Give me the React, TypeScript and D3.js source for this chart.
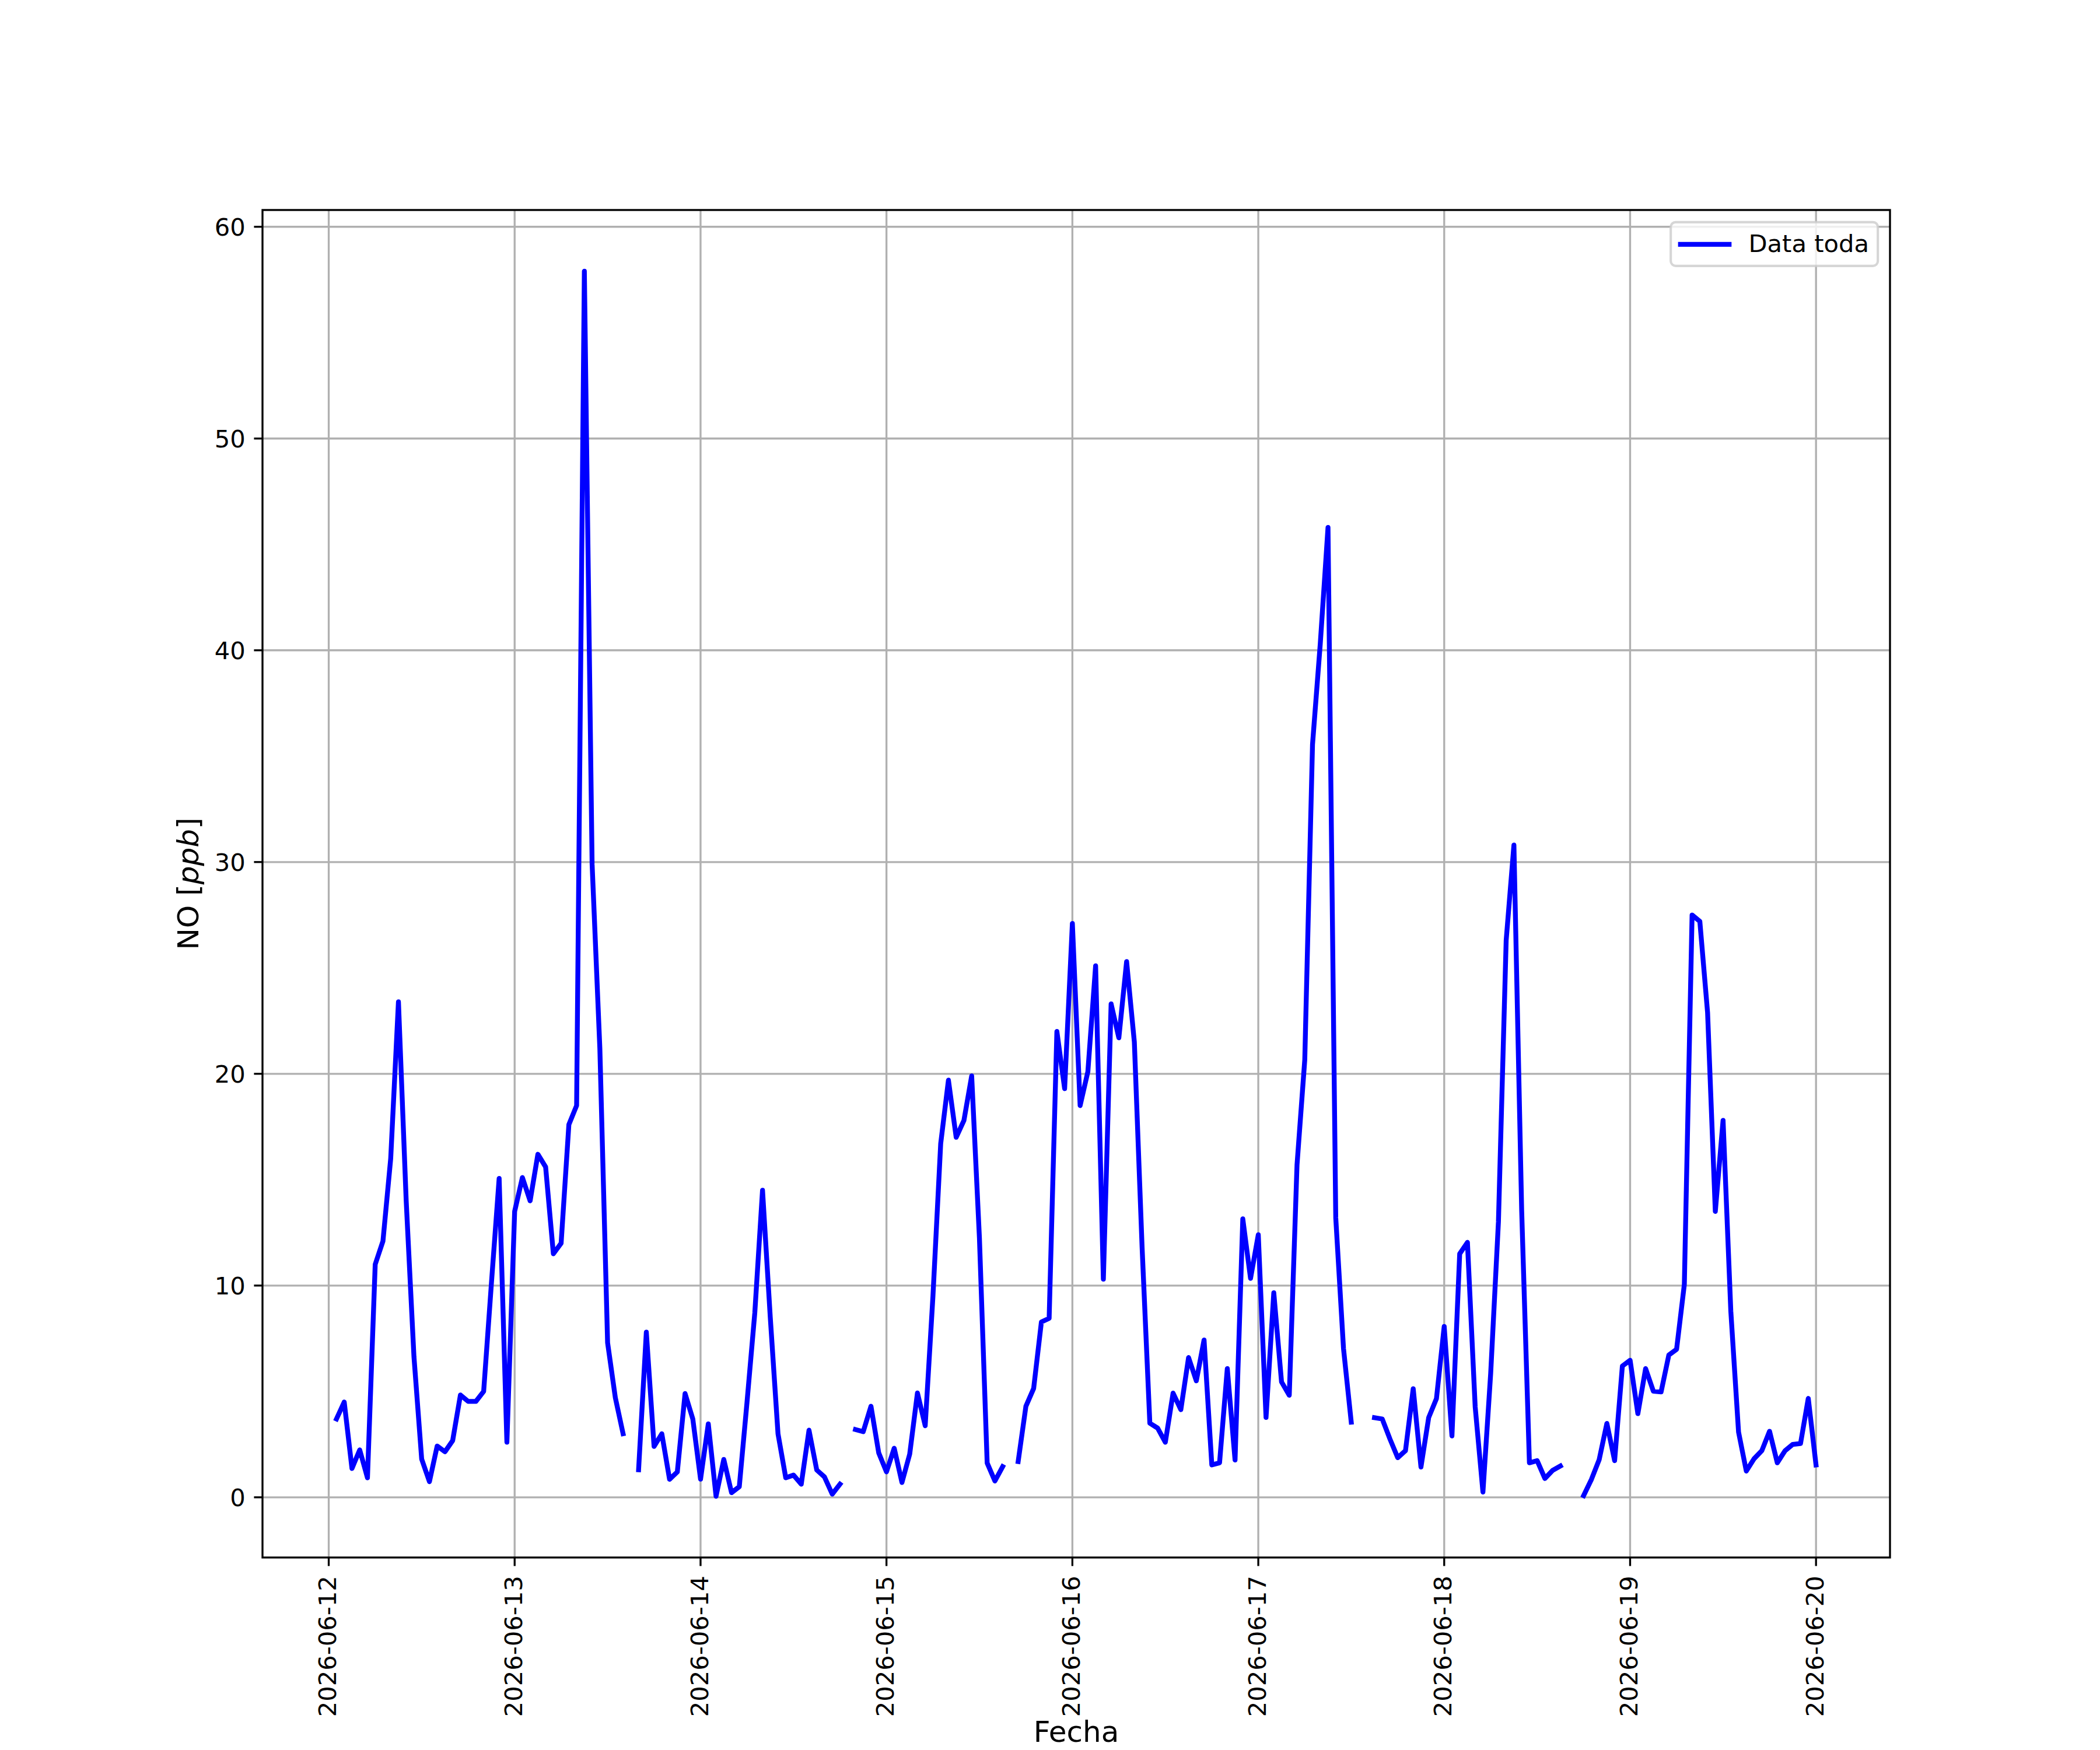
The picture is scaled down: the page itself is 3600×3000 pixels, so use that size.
import * as d3 from "d3";

// figure is 12 x 10 in at 300 dpi, matplotlib defaults
const W = 3600;
const H = 3000;
const PT = 300 / 72;
const FS = 10 * PT;
const LABEL_FS = 12 * PT;
const FONT = "DejaVu Sans";

const xTickDays = [
  "2026-06-12",
  "2026-06-13",
  "2026-06-14",
  "2026-06-15",
  "2026-06-16",
  "2026-06-17",
  "2026-06-18",
  "2026-06-19",
  "2026-06-20",
];
const yTicks = [0, 10, 20, 30, 40, 50, 60];

// NO [ppb], hourly. 06-12 starts at 01:00, the other days at 00:00; null = no data
const no_0612 = [
  3.7, 4.5, 1.36, 2.24, 0.92, 11.0, 12.1, 16.0, 23.4, 14.0, 6.65, 1.8, 0.74,
  2.42, 2.15, 2.68, 4.83, 4.53, 4.53, 5.0, 10.1, 15.06, 2.6,
];
const no_0613 = [
  13.5, 15.1, 14.0, 16.2, 15.6, 11.5, 12.0, 17.6, 18.5, 57.9, 29.9, 21.2, 7.3,
  4.7, 3.0, null, 1.3, 7.8, 2.4, 3.0, 0.85, 1.2, 4.9, 3.7,
];
const no_0614 = [
  0.86, 3.47, 0.05, 1.79, 0.22, 0.5, 4.5, 8.7, 14.5, 8.5, 3.0, 0.92, 1.05,
  0.62, 3.17, 1.29, 0.96, 0.15, 0.62, null, 3.2, 3.1, 4.3, 2.1,
];
const no_0615 = [
  1.2, 2.32, 0.7, 2.04, 4.93, 3.38, 9.5, 16.7, 19.7, 17.0, 17.8, 19.9, 12.25,
  1.62, 0.77, 1.45, null, 1.69, 4.3, 5.14, 8.28, 8.45, 22.0, 19.3,
];
const no_0616 = [
  27.1, 18.5, 20.1, 25.1, 10.3, 23.3, 21.7, 25.3, 21.5, 11.8, 3.5, 3.27, 2.6,
  4.92, 4.14, 6.6, 5.5, 7.43, 1.53, 1.63, 6.08, 1.76, 13.15, 10.34,
];
const no_0617 = [
  12.4, 3.77, 9.66, 5.45, 4.82, 15.7, 20.66, 35.55, 40.3, 45.8, 13.2, 7.03,
  3.55, null, null, 3.76, 3.7, 2.75, 1.87, 2.2, 5.13, 1.43, 3.77, 4.66,
];
const no_0618 = [
  8.07, 2.9, 11.5, 12.04, 4.27, 0.25, 5.85, 13.0, 26.3, 30.8, 13.56, 1.63,
  1.73, 0.89, 1.27, 1.48, null, null, 0.08, 0.84, 1.77, 3.49, 1.73, 6.2,
];
const no_0619 = [
  6.47, 3.95, 6.08, 5.01, 4.98, 6.72, 6.99, 10.05, 27.5, 27.2, 22.9, 13.5,
  17.8, 8.79, 3.08, 1.24, 1.82, 2.2, 3.12, 1.63, 2.2, 2.5, 2.54, 4.67,
];
const no_0620 = [1.53];

const seriesByDay = [
  no_0612,
  no_0613,
  no_0614,
  no_0615,
  no_0616,
  no_0617,
  no_0618,
  no_0619,
  no_0620,
];

const parseDay = d3.timeParse("%Y-%m-%d");
const fmtDay = d3.timeFormat("%Y-%m-%d");

const data = seriesByDay.flatMap((vals, i) =>
  vals.map((v, k) => {
    const t = new Date(parseDay(xTickDays[i]));
    t.setHours(i === 0 ? k + 1 : k);
    return { t, v };
  })
);

const left = 0.125 * W;
const right = 0.9 * W;
const top = 0.12 * H;
const bottom = 0.89 * H;

const pad = (lo, hi) => [lo - 0.05 * (hi - lo), hi + 0.05 * (hi - lo)];

export default function App() {
  const [t0, t1] = d3.extent(data, (d) => d.t);
  const [tx0, tx1] = pad(+t0, +t1);
  const xScale = d3
    .scaleTime()
    .domain([new Date(tx0), new Date(tx1)])
    .range([left, right]);

  const vals = data.filter((d) => d.v != null).map((d) => d.v);
  const yScale = d3
    .scaleLinear()
    .domain(pad(d3.min(vals), d3.max(vals)))
    .range([bottom, top]);

  const line = d3
    .line()
    .defined((d) => d.v != null)
    .x((d) => xScale(d.t))
    .y((d) => yScale(d.v));

  const xTicks = xTickDays.map((s) => parseDay(s));
  const tickLen = 3.5 * PT;
  const tickPad = 3.5 * PT;
  const thin = 0.8 * PT;
  const lw = 2 * PT;

  // legend box, upper right
  const lgW = 355;
  const lgH = 75;
  const lgX = right - 0.5 * FS - lgW;
  const lgY = top + 0.5 * FS;

  return (
    <svg
      width={W}
      height={H}
      style={{ position: "absolute", left: 0, top: 0, background: "#fff" }}
      fontFamily={FONT}
      fontSize={FS}
    >
      <rect x={0} y={0} width={W} height={H} fill="#fff" />

      {/* grid */}
      <g stroke="#b0b0b0" strokeWidth={thin}>
        {xTicks.map((t, i) => (
          <line key={"gx" + i} x1={xScale(t)} x2={xScale(t)} y1={top} y2={bottom} />
        ))}
        {yTicks.map((v) => (
          <line key={"gy" + v} x1={left} x2={right} y1={yScale(v)} y2={yScale(v)} />
        ))}
      </g>

      <path
        d={line(data)}
        fill="none"
        stroke="blue"
        strokeWidth={lw}
        strokeLinejoin="round"
        strokeLinecap="square"
      />

      {/* spines */}
      <rect
        x={left}
        y={top}
        width={right - left}
        height={bottom - top}
        fill="none"
        stroke="#000"
        strokeWidth={thin}
      />

      {/* y axis */}
      <g>
        {yTicks.map((v) => (
          <g key={"yt" + v}>
            <line
              x1={left - tickLen}
              x2={left}
              y1={yScale(v)}
              y2={yScale(v)}
              stroke="#000"
              strokeWidth={thin}
            />
            <text
              x={left - tickLen - tickPad}
              y={yScale(v)}
              dy="0.36em"
              textAnchor="end"
            >
              {v}
            </text>
          </g>
        ))}
      </g>

      {/* x axis */}
      <g>
        {xTicks.map((t, i) => (
          <g key={"xt" + i}>
            <line
              x1={xScale(t)}
              x2={xScale(t)}
              y1={bottom}
              y2={bottom + tickLen}
              stroke="#000"
              strokeWidth={thin}
            />
            <text
              transform={`translate(${xScale(t) + 12.7},${bottom + tickLen + tickPad + 2}) rotate(-90)`}
              textAnchor="end"
            >
              {fmtDay(t)}
            </text>
          </g>
        ))}
      </g>

      <text x={(left + right) / 2} y={2986} textAnchor="middle" fontSize={LABEL_FS}>
        Fecha
      </text>
      <text
        transform={`translate(340,${(top + bottom) / 2}) rotate(-90)`}
        textAnchor="middle"
        fontSize={LABEL_FS}
      >
        NO [<tspan fontStyle="italic">ppb</tspan>]
      </text>

      {/* legend */}
      <g>
        <rect
          x={lgX}
          y={lgY}
          width={lgW}
          height={lgH}
          rx={0.2 * FS}
          ry={0.2 * FS}
          fill="#fff"
          fillOpacity={0.8}
          stroke="#ccc"
          strokeOpacity={0.8}
          strokeWidth={1 * PT}
        />
        <line
          x1={lgX + 0.4 * FS}
          x2={lgX + 2.4 * FS}
          y1={lgY + 38}
          y2={lgY + 38}
          stroke="blue"
          strokeWidth={lw}
          strokeLinecap="square"
        />
        <text x={lgX + 3.2 * FS} y={lgY + 51}>
          Data toda
        </text>
      </g>
    </svg>
  );
}
